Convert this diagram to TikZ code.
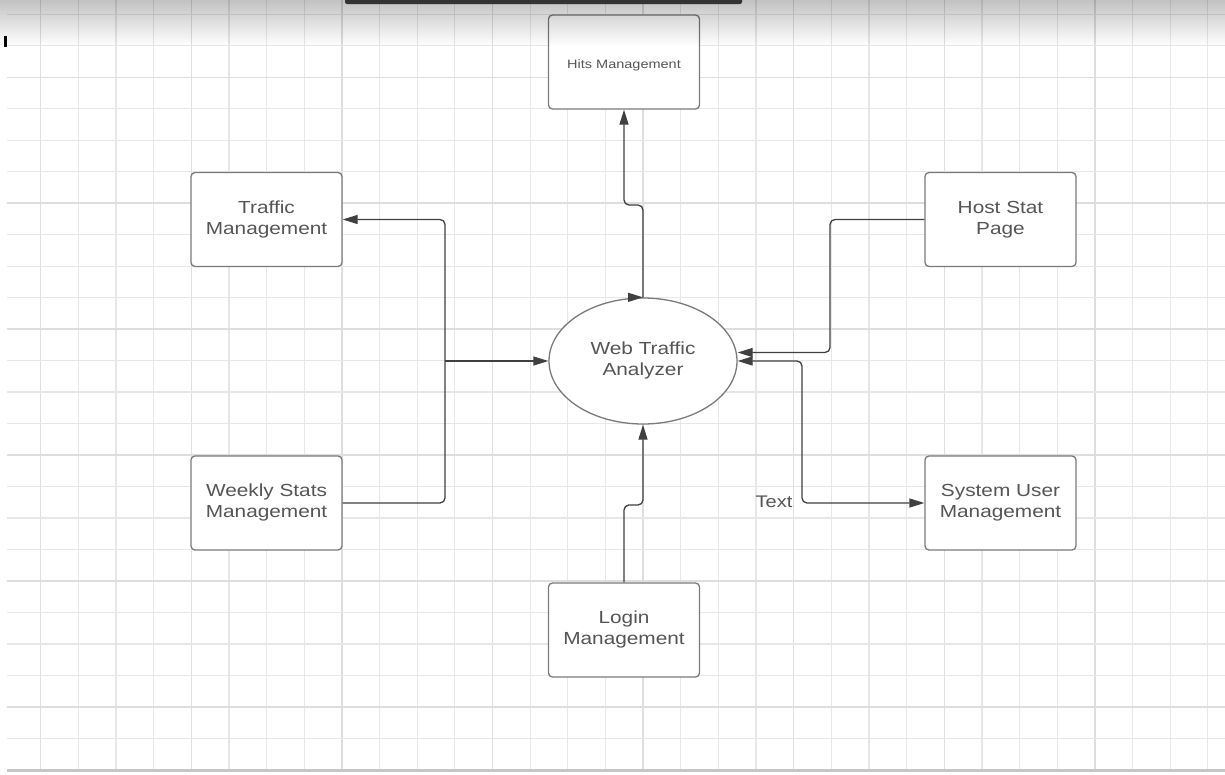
\documentclass[tikz,border=0pt]{standalone}
\usepackage{fontspec}
\setmainfont{Liberation Sans}
\usepackage{graphicx}
\usetikzlibrary{arrows.meta,shapes.geometric,fadings}
\tikzfading[name=topfade, top color=transparent!0, bottom color=transparent!100]
\definecolor{linec}{HTML}{404040}
\definecolor{boxc}{HTML}{7A7A7A}
\definecolor{txtc}{HTML}{555555}
\newcommand\sqz[1]{\scalebox{1}[0.84]{\begin{tabular}{@{}c@{}}#1\end{tabular}}}
\tikzset{
  gridminor/.style={line width=1.2pt, draw=gray!19},
  gridmajor/.style={line width=1.4pt, draw=gray!26},
  procbox/.style={rectangle, rounded corners=4pt, draw=boxc, line width=1.3pt, fill=white,
     minimum width=151pt, minimum height=94pt, inner sep=0pt, text=txtc,
     font=\fontsize{20.8}{25}\selectfont},
  procell/.style={ellipse, draw=boxc, line width=1.3pt, fill=white,
     minimum width=188pt, minimum height=126pt, inner sep=0pt, text=txtc,
     font=\fontsize{20.8}{25}\selectfont},
  conn/.style={draw=linec, line width=1.3pt, rounded corners=5pt},
  tip/.tip={Triangle[length=15pt,width=9pt]},
  lbl/.style={text=txtc, inner sep=0pt, font=\fontsize{20}{24}\selectfont}
}
\begin{document}
\begin{tikzpicture}[x=1pt,y=-1pt]
\useasboundingbox (0,0) rectangle (1225,774);
\fill[white] (0,0) rectangle (1225,774);
% grid
\foreach \k in {0,...,31}{
  \pgfmathsetmacro\gx{40.7+37.65*\k}
  \pgfmathtruncatemacro\m{mod(\k,4)}
  \ifnum\m=0
    \draw[gridmajor] (\gx,0) -- (\gx,770);
  \else
    \draw[gridminor] (\gx,0) -- (\gx,770);
  \fi
}
\foreach \k in {-5,...,18}{
  \pgfmathsetmacro\gy{171.7+31.48*\k}
  \pgfmathtruncatemacro\m{mod(\k+7,4)}
  \ifnum\m=0
    \draw[gridmajor] (7,\gy) -- (1225,\gy);
  \else
    \draw[gridminor] (7,\gy) -- (1225,\gy);
  \fi
}
\draw[line width=3pt, draw=gray!45] (7,770.5) -- (1225,770.5);

% nodes
\node[procbox] (hits) at (624,62) {};
\node[text=txtc, inner sep=0pt, font=\fontsize{14.5}{17.4}\selectfont] (hitslbl) at (624,65.5) {\sqz{Hits Management}};
\node[procbox] (traffic) at (266.5,219.5) {\sqz{Traffic\\Management}};
\node[procbox] (weekly) at (266.5,503) {\sqz{Weekly Stats\\Management}};
\node[procbox] (host) at (1000.5,219.5) {\sqz{Host Stat\\Page}};
\node[procbox] (sysuser) at (1000.5,503) {\sqz{System User\\Management}};
\node[procbox] (login) at (624,630) {\sqz{Login\\Management}};
\node[procell] (web) at (643,361) {\sqz{Web Traffic\\Analyzer}};

% junction coordinates
\coordinate (jl) at (445,361);
\coordinate (jh) at (830,352.5);
\coordinate (js) at (802,430);
\coordinate (jlog) at (633,505);
\coordinate (jhit) at (633,205);

% connectors
\draw[conn, {tip}-] (traffic.east) -| (jl) |- (weekly.east);
\draw[conn, -{tip}] (jl) -- (web.west);
\draw[conn, -{tip}] (host.west) -| (jh) -- (jh -| web.east);
\draw[conn, {tip}-{tip}] (web.east) -| (js) |- (sysuser.west);
\draw[conn, -{tip}] (login.north) |- (jlog) -| (web.south);
\draw[conn, -{tip}] (web.north) |- (jhit) -| (hits.south);
\draw[conn, -{tip}] ([xshift=-15pt]web.north) -- (web.north);

\node[lbl] (txt) at (774,502) {\scalebox{1}[0.84]{Text}};

% top shadow and screen artefacts
\fill[black, opacity=0.24, path fading=topfade] (0,0) rectangle (1225,46);
\fill[black!80, rounded corners=2pt] (345,-5) rectangle (742,4);
\fill[black] (4,36) rectangle (6.5,47);
\end{tikzpicture}
\end{document}
